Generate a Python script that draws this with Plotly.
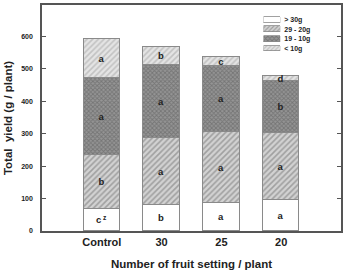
import plotly.graph_objects as go

# ---- data ----
categories = ["Control", "30", "25", "20"]
size_classes = ["> 30g", "29 - 20g", "19 - 10g", "< 10g"]
yield_gt30 = [68, 79, 87, 95]
yield_29_20 = [166, 207, 217, 206]
yield_19_10 = [238, 226, 206, 163]
yield_lt10 = [121, 55, 27, 14]
letters_gt30 = ["c<sup> z</sup>", "b", "a", "a"]
letters_29_20 = ["b", "a", "a", "a"]
letters_19_10 = ["a", "a", "a", "b"]
letters_lt10 = ["a", "b", "c", "d"]
y_ticks = [0, 100, 200, 300, 400, 500, 600]

series = [yield_gt30, yield_29_20, yield_19_10, yield_lt10]
letters = [letters_gt30, letters_29_20, letters_19_10, letters_lt10]

# ---- styles ----
FONT = "Liberation Sans, Arial, sans-serif"
styles = [
    dict(shape="", bgcolor="white", fgcolor="white", size=4, solidity=0.3),
    dict(shape="/", bgcolor="#d2d2d2", fgcolor="#6e6e6e", size=4, solidity=0.4),
    dict(shape="x", bgcolor="#959595", fgcolor="#555555", size=3, solidity=0.5),
    dict(shape="/", bgcolor="#e4e4e4", fgcolor="#a0a0a0", size=4, solidity=0.4),
]
edge = dict(color="#8a8a8a", width=1)

fig = go.Figure()
for name, vals, txt, st in zip(size_classes, series, letters, styles):
    fig.add_trace(go.Bar(
        x=categories, y=vals, name=name, text=txt,
        textposition="inside", insidetextanchor="middle", textangle=0,
        constraintext="none",
        insidetextfont=dict(family=FONT, size=9.5, color="#222", weight="bold"),
        marker=dict(color=st["bgcolor"], line=edge,
                    pattern=dict(shape=st["shape"], bgcolor=st["bgcolor"],
                                 fgcolor=st["fgcolor"], size=st["size"],
                                 solidity=st["solidity"])),
        width=0.61, showlegend=False, xaxis="x", yaxis="y",
    ))

# legend drawn as an inset of swatches
for name, st in zip(size_classes, styles):
    fig.add_trace(go.Bar(
        x=[1], y=[name], orientation="h", width=0.6,
        marker=dict(color=st["bgcolor"], line=dict(color="#8a8a8a", width=0.8),
                    pattern=dict(shape=st["shape"], bgcolor=st["bgcolor"],
                                 fgcolor=st["fgcolor"], size=3,
                                 solidity=st["solidity"])),
        xaxis="x3", yaxis="y3", showlegend=False, hoverinfo="skip",
    ))

axis_color = "#555"
fig.update_layout(
    barmode="stack",
    width=345, height=271,
    margin=dict(l=42, r=2, t=5, b=39),
    paper_bgcolor="white", plot_bgcolor="white",
    font=dict(family=FONT, color="#222"),
    xaxis=dict(
        type="category", categoryarray=categories, range=[-1, 4],
        showline=True, linecolor=axis_color, linewidth=1.5, mirror=True,
        ticks="", showgrid=False, zeroline=False,
        tickfont=dict(family=FONT, size=11, weight="bold", color="#222"),
        title=dict(text="Number of fruit setting / plant",
                   font=dict(family=FONT, size=11.5, weight="bold", color="#222"),
                   standoff=13),
    ),
    yaxis=dict(
        range=[0, 697], tickvals=y_ticks,
        showline=True, linecolor=axis_color, linewidth=1.5, mirror="ticks",
        ticks="inside", ticklen=4, tickcolor=axis_color, tickwidth=1.2,
        showgrid=False, zeroline=False, ticklabelstandoff=6,
        tickfont=dict(family=FONT, size=7, weight="bold", color="#222"),
        title=dict(text="Total\u00a0 yield (g / plant)",
                   font=dict(family=FONT, size=11.5, weight="bold", color="#222"),
                   standoff=6),
    ),
    xaxis3=dict(domain=[0.741, 0.797], range=[0, 1], anchor="y3",
                visible=False, fixedrange=True),
    yaxis3=dict(domain=[0.786, 0.955], anchor="x3", type="category",
                categoryarray=size_classes, autorange="reversed",
                side="right", showgrid=False, showline=False, ticks="",
                zeroline=False, ticklabelstandoff=3,
                tickfont=dict(family=FONT, size=7, weight="bold", color="#222")),
    bargap=0,
)

fig.write_html("out.html")
